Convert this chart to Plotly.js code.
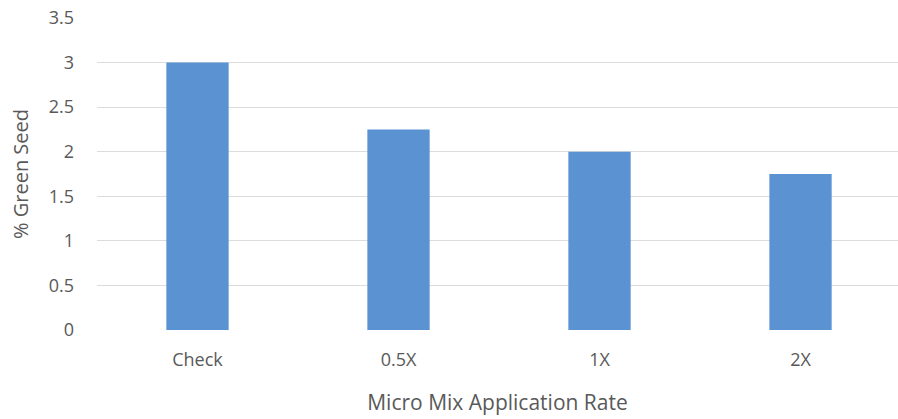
<!DOCTYPE html>
<html>
<head>
<meta charset="utf-8">
<script src="https://cdn.plot.ly/plotly-3.0.1.min.js"></script>
<style>html,body{margin:0;padding:0;background:#fff;}#chart{width:898px;height:419px;}</style>
</head>
<body>
<div id="chart"></div>
<script>
var categories = ["Check", "0.5X", "1X", "2X"];
var greenSeed = [3.0, 2.25, 2.0, 1.75];
var yTicks = [0, 0.5, 1, 1.5, 2, 2.5, 3, 3.5];
var yTickLabels = ["0", "0.5", "1", "1.5", "2", "2.5", "3", "3.5"];

var trace = {
  type: "bar",
  x: categories,
  y: greenSeed,
  marker: {color: "#5b92d2"},
  hoverinfo: "x+y"
};

var layout = {
  width: 898,
  height: 419,
  margin: {l: 97, r: 0, t: 18, b: 89},
  paper_bgcolor: "#ffffff",
  plot_bgcolor: "#ffffff",
  bargap: 0.69,
  showlegend: false,
  font: {family: "Open Sans, sans-serif", color: "#595959", size: 18},
  xaxis: {
    type: "category",
    range: [-0.5, 3.485],
    showgrid: false,
    zeroline: false,
    showline: false,
    ticks: "",
    ticklabelstandoff: 17,
    tickfont: {size: 18, color: "#595959"},
    title: {text: "Micro Mix Application Rate", font: {size: 21, color: "#595959"}, standoff: 25}
  },
  yaxis: {
    range: [0, 3.5],
    tickvals: yTicks,
    ticktext: yTickLabels,
    showgrid: true,
    gridcolor: "#dcdcdc",
    gridwidth: 1,
    zeroline: false,
    showline: false,
    ticks: "",
    ticklabelstandoff: 22,
    tickfont: {size: 18, color: "#595959"},
    title: {text: "% Green Seed", font: {size: 20, color: "#595959"}, standoff: 14}
  }
};

Plotly.newPlot("chart", [trace], layout, {displayModeBar: false, staticPlot: true});
</script>
</body>
</html>
